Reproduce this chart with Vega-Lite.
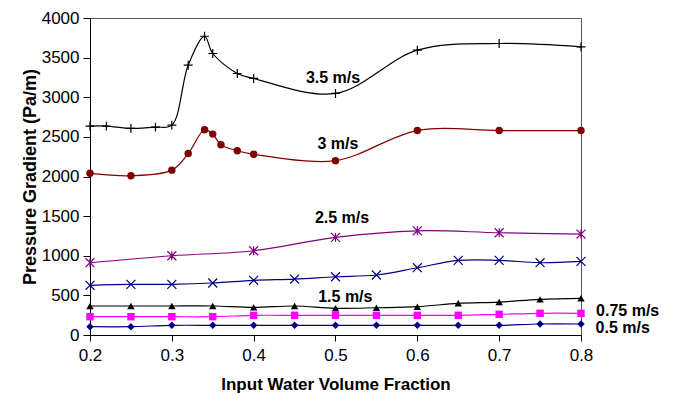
{
  "$schema": "https://vega.github.io/schema/vega-lite/v6.json",
  "width": 491,
  "height": 317,
  "autosize": "none",
  "padding": {"left": 90, "top": 18, "right": 95, "bottom": 60},
  "background": "white",
  "config": {
    "font": "Liberation Sans",
    "view": {"stroke": "#555555", "strokeWidth": 1},
    "axis": {
      "grid": false,
      "domainColor": "black",
      "domainWidth": 1,
      "tickColor": "black",
      "labelFont": "Liberation Sans",
      "labelFontSize": 17,
      "labelColor": "black",
      "titleFont": "Liberation Sans",
      "titleFontSize": 17,
      "titleFontWeight": "bold",
      "titleColor": "black"
    }
  },
  "datasets": {
    "curves": [
      {"series": "3.5 m/s", "x": 0.2, "y": 2636},
      {"series": "3.5 m/s", "x": 0.22, "y": 2636},
      {"series": "3.5 m/s", "x": 0.25, "y": 2607},
      {"series": "3.5 m/s", "x": 0.28, "y": 2623},
      {"series": "3.5 m/s", "x": 0.3, "y": 2648},
      {"series": "3.5 m/s", "x": 0.32, "y": 3405},
      {"series": "3.5 m/s", "x": 0.34, "y": 3770},
      {"series": "3.5 m/s", "x": 0.35, "y": 3552},
      {"series": "3.5 m/s", "x": 0.38, "y": 3300},
      {"series": "3.5 m/s", "x": 0.4, "y": 3237},
      {"series": "3.5 m/s", "x": 0.5, "y": 3048},
      {"series": "3.5 m/s", "x": 0.6, "y": 3594},
      {"series": "3.5 m/s", "x": 0.7, "y": 3678},
      {"series": "3.5 m/s", "x": 0.8, "y": 3636},

      {"series": "3 m/s", "x": 0.2, "y": 2040},
      {"series": "3 m/s", "x": 0.25, "y": 2010},
      {"series": "3 m/s", "x": 0.3, "y": 2080},
      {"series": "3 m/s", "x": 0.32, "y": 2290},
      {"series": "3 m/s", "x": 0.34, "y": 2590},
      {"series": "3 m/s", "x": 0.35, "y": 2535},
      {"series": "3 m/s", "x": 0.36, "y": 2400},
      {"series": "3 m/s", "x": 0.38, "y": 2325},
      {"series": "3 m/s", "x": 0.4, "y": 2280},
      {"series": "3 m/s", "x": 0.5, "y": 2200},
      {"series": "3 m/s", "x": 0.6, "y": 2580},
      {"series": "3 m/s", "x": 0.7, "y": 2580},
      {"series": "3 m/s", "x": 0.8, "y": 2580},

      {"series": "2.5 m/s", "x": 0.2, "y": 912},
      {"series": "2.5 m/s", "x": 0.3, "y": 1000},
      {"series": "2.5 m/s", "x": 0.4, "y": 1063},
      {"series": "2.5 m/s", "x": 0.5, "y": 1232},
      {"series": "2.5 m/s", "x": 0.6, "y": 1315},
      {"series": "2.5 m/s", "x": 0.7, "y": 1290},
      {"series": "2.5 m/s", "x": 0.8, "y": 1274},

      {"series": "2 m/s", "x": 0.2, "y": 627},
      {"series": "2 m/s", "x": 0.25, "y": 639},
      {"series": "2 m/s", "x": 0.3, "y": 639},
      {"series": "2 m/s", "x": 0.35, "y": 656},
      {"series": "2 m/s", "x": 0.4, "y": 690},
      {"series": "2 m/s", "x": 0.45, "y": 706},
      {"series": "2 m/s", "x": 0.5, "y": 735},
      {"series": "2 m/s", "x": 0.55, "y": 757},
      {"series": "2 m/s", "x": 0.6, "y": 849},
      {"series": "2 m/s", "x": 0.65, "y": 942},
      {"series": "2 m/s", "x": 0.7, "y": 942},
      {"series": "2 m/s", "x": 0.75, "y": 912},
      {"series": "2 m/s", "x": 0.8, "y": 929},

      {"series": "1.5 m/s", "x": 0.2, "y": 366},
      {"series": "1.5 m/s", "x": 0.25, "y": 366},
      {"series": "1.5 m/s", "x": 0.3, "y": 366},
      {"series": "1.5 m/s", "x": 0.35, "y": 366},
      {"series": "1.5 m/s", "x": 0.4, "y": 349},
      {"series": "1.5 m/s", "x": 0.45, "y": 366},
      {"series": "1.5 m/s", "x": 0.5, "y": 337},
      {"series": "1.5 m/s", "x": 0.55, "y": 344},
      {"series": "1.5 m/s", "x": 0.6, "y": 357},
      {"series": "1.5 m/s", "x": 0.65, "y": 400},
      {"series": "1.5 m/s", "x": 0.7, "y": 416},
      {"series": "1.5 m/s", "x": 0.75, "y": 450},
      {"series": "1.5 m/s", "x": 0.8, "y": 463},

      {"series": "0.75 m/s", "x": 0.2, "y": 231},
      {"series": "0.75 m/s", "x": 0.25, "y": 231},
      {"series": "0.75 m/s", "x": 0.3, "y": 231},
      {"series": "0.75 m/s", "x": 0.35, "y": 231},
      {"series": "0.75 m/s", "x": 0.4, "y": 248},
      {"series": "0.75 m/s", "x": 0.45, "y": 248},
      {"series": "0.75 m/s", "x": 0.5, "y": 248},
      {"series": "0.75 m/s", "x": 0.55, "y": 248},
      {"series": "0.75 m/s", "x": 0.6, "y": 248},
      {"series": "0.75 m/s", "x": 0.65, "y": 248},
      {"series": "0.75 m/s", "x": 0.7, "y": 261},
      {"series": "0.75 m/s", "x": 0.75, "y": 274},
      {"series": "0.75 m/s", "x": 0.8, "y": 274},

      {"series": "0.5 m/s", "x": 0.2, "y": 105},
      {"series": "0.5 m/s", "x": 0.25, "y": 105},
      {"series": "0.5 m/s", "x": 0.3, "y": 122},
      {"series": "0.5 m/s", "x": 0.35, "y": 122},
      {"series": "0.5 m/s", "x": 0.4, "y": 122},
      {"series": "0.5 m/s", "x": 0.45, "y": 122},
      {"series": "0.5 m/s", "x": 0.5, "y": 122},
      {"series": "0.5 m/s", "x": 0.55, "y": 122},
      {"series": "0.5 m/s", "x": 0.6, "y": 122},
      {"series": "0.5 m/s", "x": 0.65, "y": 122},
      {"series": "0.5 m/s", "x": 0.7, "y": 122},
      {"series": "0.5 m/s", "x": 0.75, "y": 139},
      {"series": "0.5 m/s", "x": 0.8, "y": 139}
    ],
    "tags": [
      {"label": "3.5 m/s", "x": 0.497, "y": 3240},
      {"label": "3 m/s", "x": 0.503, "y": 2410},
      {"label": "2.5 m/s", "x": 0.508, "y": 1475},
      {"label": "1.5 m/s", "x": 0.512, "y": 480},
      {"label": "0.75 m/s", "x": 0.857, "y": 300},
      {"label": "0.5 m/s", "x": 0.851, "y": 88}
    ]
  },
  "encoding": {
    "x": {"field": "x", "type": "quantitative", "scale": {"domain": [0.2, 0.8], "nice": false, "zero": false},
          "axis": {"title": "Input Water Volume Fraction", "values": [0.2, 0.3, 0.4, 0.5, 0.6, 0.7, 0.8], "format": ".1f", "tickSize": 6, "labelPadding": 6, "titlePadding": 13, "labelFlush": false}},
    "y": {"field": "y", "type": "quantitative", "scale": {"domain": [0, 4000], "nice": false, "zero": true},
          "axis": {"title": "Pressure Gradient (Pa/m)", "titleFontSize": 18, "values": [0, 500, 1000, 1500, 2000, 2500, 3000, 3500, 4000], "labelExpr": "'' + datum.value", "labelOverlap": false, "tickSize": 7, "labelPadding": 4, "titlePadding": 2, "labelFlush": false}}
  },
  "layer": [
    {
      "data": {"name": "curves"},
      "mark": {"type": "line", "interpolate": "catmull-rom", "strokeWidth": 1.2},
      "encoding": {
        "color": {"field": "series", "type": "nominal", "legend": null,
                  "scale": {"domain": ["0.5 m/s", "0.75 m/s", "1.5 m/s", "2 m/s", "2.5 m/s", "3 m/s", "3.5 m/s"],
                            "range": ["#000080", "#FF00FF", "#000000", "#000080", "#800080", "#800000", "#000000"]}}
      }
    },
    {
      "data": {"name": "curves"},
      "transform": [{"filter": {"field": "series", "oneOf": ["0.5 m/s", "0.75 m/s", "1.5 m/s", "3 m/s"]}}],
      "mark": {"type": "point", "filled": true, "opacity": 1, "size": 55},
      "encoding": {
        "color": {"field": "series", "type": "nominal", "legend": null},
        "shape": {"field": "series", "type": "nominal", "legend": null,
                  "scale": {"domain": ["0.5 m/s", "0.75 m/s", "1.5 m/s", "2 m/s", "2.5 m/s", "3 m/s", "3.5 m/s"],
                            "range": ["diamond", "square", "triangle-up", "M-1,-1L1,1M-1,1L1,-1", "M-1,-1L1,1M-1,1L1,-1M0,-1L0,1", "circle", "M-1,0L1,0M0,-1L0,1"]}}
      }
    },
    {
      "data": {"name": "curves"},
      "transform": [{"filter": {"field": "series", "oneOf": ["2 m/s", "2.5 m/s", "3.5 m/s"]}}],
      "mark": {"type": "point", "filled": false, "opacity": 1, "size": 80, "strokeWidth": 1.2},
      "encoding": {
        "color": {"field": "series", "type": "nominal", "legend": null},
        "shape": {"field": "series", "type": "nominal", "legend": null}
      }
    },
    {
      "data": {"name": "tags"},
      "mark": {"type": "text", "font": "Liberation Sans", "fontSize": 16, "fontWeight": "bold", "color": "black", "align": "center", "baseline": "middle"},
      "encoding": {
        "text": {"field": "label", "type": "nominal"}
      }
    }
  ]
}
